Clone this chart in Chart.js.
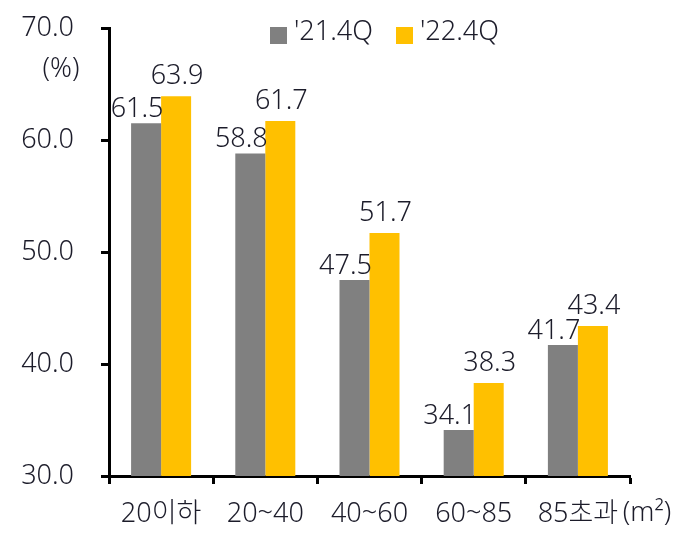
<!DOCTYPE html>
<html>
<head>
<meta charset="utf-8">
<script src="https://cdn.jsdelivr.net/npm/chart.js@4/dist/chart.umd.min.js"></script>
<style>
  html, body { margin: 0; padding: 0; background: #fff; }
  #wrap { width: 680px; height: 545px; }
</style>
</head>
<body>
<div id="wrap"><canvas id="chart" width="680" height="545"></canvas></div>
<script>
// ── Data ─────────────────────────────────────────────────────────────────────
const CATEGORIES   = ['20이하', '20~40', '40~60', '60~85', '85초과'];
const SERIES_NAMES = ["'21.4Q", "'22.4Q"];
const VALUES_21Q4  = [61.5, 58.8, 47.5, 34.1, 41.7];
const VALUES_22Q4  = [63.9, 61.7, 51.7, 38.3, 43.4];
const Y_TICKS      = [30, 40, 50, 60, 70];

const COLORS = ['#808080', '#ffc000'];
const FONT   = "'Noto Sans', 'Noto Sans CJK KR', sans-serif";
const FSIZE  = 27;
const INK    = '#1c1c2a';

// ── Plugins ──────────────────────────────────────────────────────────────────
// value labels above bars (gray ones sit a bit left, like the original)
const valueLabels = {
  id: 'valueLabels',
  afterDatasetsDraw(chart) {
    const { ctx } = chart;
    const dx  = [-9, 1];
    const gap = [6, 12];
    ctx.save();
    ctx.font = `300 ${FSIZE}px ${FONT}`;
    ctx.fillStyle = INK;
    ctx.textAlign = 'center';
    ctx.textBaseline = 'alphabetic';
    chart.data.datasets.forEach((ds, di) => {
      chart.getDatasetMeta(di).data.forEach((bar, i) => {
        ctx.fillText(ds.data[i].toFixed(1), bar.x + dx[di], bar.y - gap[di]);
      });
    });
    ctx.restore();
  },
};

// legend, unit labels
const extras = {
  id: 'extras',
  afterDraw(chart) {
    const { ctx } = chart;
    ctx.save();
    ctx.font = `300 ${FSIZE}px ${FONT}`;
    ctx.fillStyle = INK;
    ctx.textBaseline = 'middle';

    const items = [{ x: 270 }, { x: 396 }];
    items.forEach((it, i) => {
      ctx.fillStyle = COLORS[i];
      ctx.fillRect(it.x, 27, 17, 17);
      ctx.fillStyle = INK;
      ctx.textAlign = 'left';
      ctx.fillText(chart.data.datasets[i].label, it.x + 24, 32);
    });

    ctx.textAlign = 'center';
    ctx.fillText('(%)', 61, 69);
    ctx.fillText('(m²)', 647, 513);
    ctx.restore();
  },
};

// ── Chart ────────────────────────────────────────────────────────────────────
new Chart(document.getElementById('chart').getContext('2d'), {
  type: 'bar',
  data: {
    labels: CATEGORIES,
    datasets: [
      { label: SERIES_NAMES[0], data: VALUES_21Q4, backgroundColor: COLORS[0] },
      { label: SERIES_NAMES[1], data: VALUES_22Q4, backgroundColor: COLORS[1] },
    ],
  },
  options: {
    responsive: false,
    animation: false,
    devicePixelRatio: 1,
    layout: { padding: { top: 28, right: 50, left: 0, bottom: 0 } },
    datasets: { bar: { categoryPercentage: 0.576, barPercentage: 1.0 } },
    plugins: {
      legend: { display: false },
      tooltip: { enabled: false },
    },
    scales: {
      x: {
        afterFit: s => { s.height = 69; },
        border: { display: true, color: '#000', width: 3 },
        grid: { drawOnChartArea: false, drawTicks: true, tickLength: 8, tickWidth: 3, tickColor: '#000' },
        ticks: { color: INK, font: { family: FONT, size: FSIZE, weight: 300 }, padding: 14 },
      },
      y: {
        min: 30,
        max: 70,
        afterFit: s => { s.width = 109; s.paddingTop = 0; s.paddingBottom = 0; },
        afterBuildTicks: s => { s.ticks = Y_TICKS.map(v => ({ value: v })); },
        border: { display: true, color: '#000', width: 3 },
        grid: { drawOnChartArea: false, drawTicks: true, tickLength: 8, tickWidth: 3, tickColor: '#000' },
        ticks: {
          color: INK,
          font: { family: FONT, size: FSIZE, weight: 300 },
          padding: 27,
          callback: v => v.toFixed(1),
        },
      },
    },
  },
  plugins: [valueLabels, extras],
});
</script>
</body>
</html>
